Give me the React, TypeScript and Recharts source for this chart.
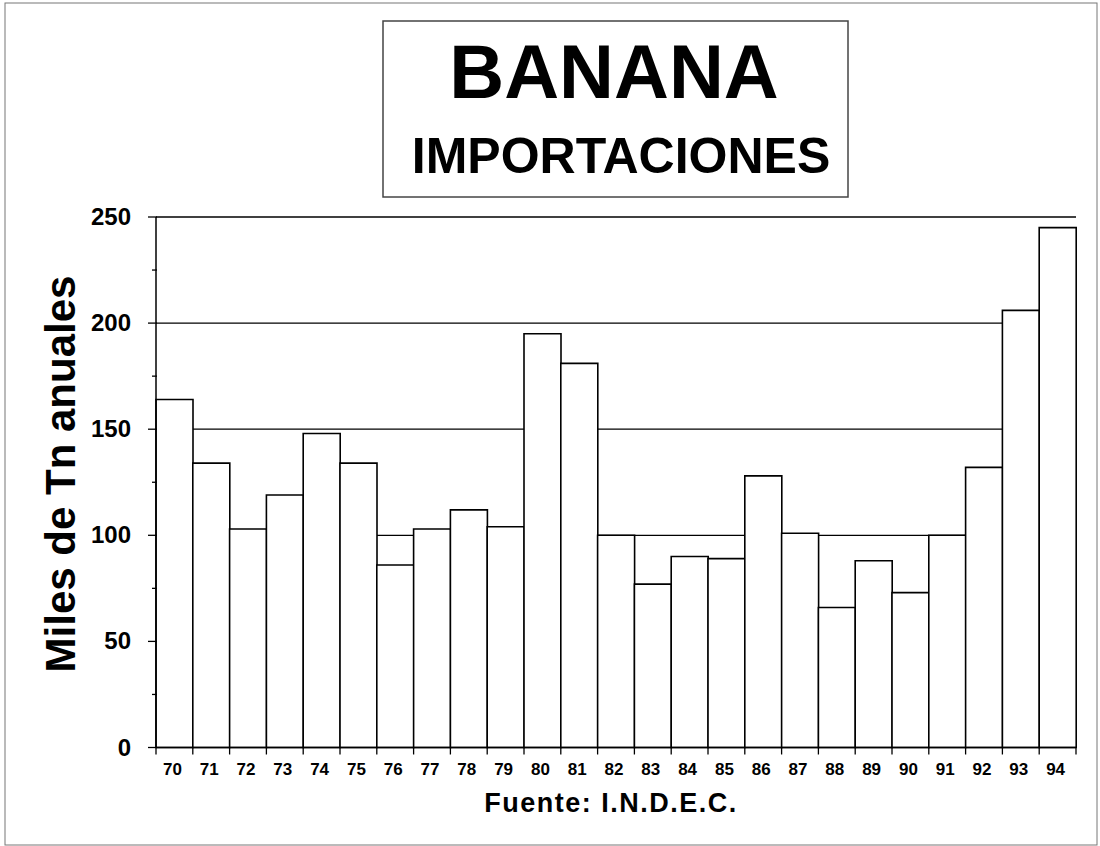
import { BarChart, Bar, XAxis, YAxis, CartesianGrid } from "recharts"

const YEARS = [
  "70", "71", "72", "73", "74", "75", "76", "77", "78", "79", "80", "81", "82",
  "83", "84", "85", "86", "87", "88", "89", "90", "91", "92", "93", "94",
]

// miles de Tn anuales
const IMPORTS = [
  164, 134, 103, 119, 148, 134, 86, 103, 112, 104, 195, 181, 100,
  77, 90, 89, 128, 101, 66, 88, 73, 100, 132, 206, 245,
]

const Y_TICKS = [0, 25, 50, 75, 100, 125, 150, 175, 200, 225, 250]
const GRID_VALUES = [50, 100, 150, 200, 250]

const FONT = '"Liberation Sans", Arial, Helvetica, sans-serif'
const Y_TICK_GAP = 25

const data = YEARS.map((year, i) => ({ year, value: IMPORTS[i] }))

function YTick(props: any) {
  const { x, y, payload } = props
  const axisX = x + Y_TICK_GAP
  const major = payload.value % 50 === 0
  return (
    <g>
      <line x1={axisX - (major ? 8 : 4)} x2={axisX + 1} y1={y} y2={y} stroke="#000" strokeWidth={1.3} />
      {major && (
        <text x={x} y={y} dy={8} textAnchor="end" fontSize={24} fontWeight="bold" fontFamily={FONT} fill="#000">
          {payload.value}
        </text>
      )}
    </g>
  )
}

function XTick(props: any) {
  const { x, y, payload, index } = props
  const half = payload.offset ?? 18.4
  const last = index === YEARS.length - 1
  return (
    <g>
      <line x1={x - half} x2={x - half} y1={y} y2={y + 7} stroke="#000" strokeWidth={1.3} />
      {last && <line x1={x + half} x2={x + half} y1={y} y2={y + 7} stroke="#000" strokeWidth={1.3} />}
      <text x={x - 2} y={y + 27} textAnchor="middle" fontSize={17} fontWeight="bold" fontFamily={FONT} fill="#000">
        {payload.value}
      </text>
    </g>
  )
}

export default function App() {
  return (
    <div style={{ position: "absolute", left: 0, top: 0, width: 1100, height: 846, background: "#fff" }}>
      <BarChart
        width={1100}
        height={846}
        data={data}
        margin={{ top: 217, right: 24, bottom: 68.5, left: 96 }}
        barCategoryGap={0}
        barGap={0}
      >
        <CartesianGrid horizontal vertical={false} horizontalValues={GRID_VALUES} stroke="#000" strokeWidth={1.3} />
        <XAxis
          dataKey="year"
          interval={0}
          height={30}
          tickSize={0}
          tickMargin={0}
          tickLine={false}
          axisLine={{ stroke: "#000", strokeWidth: 1.5 }}
          tick={<XTick />}
        />
        <YAxis
          width={60}
          domain={[0, 250]}
          ticks={Y_TICKS}
          interval={0}
          tickSize={0}
          tickMargin={Y_TICK_GAP}
          tickLine={false}
          axisLine={{ stroke: "#000", strokeWidth: 1.5 }}
          tick={<YTick />}
        />
        <Bar dataKey="value" fill="#fff" stroke="#000" strokeWidth={1.6} isAnimationActive={false} />
      </BarChart>
      <svg
        width={1100}
        height={846}
        style={{ position: "absolute", left: 0, top: 0, pointerEvents: "none" }}
        fontFamily={FONT}
      >
        <rect x={5} y={3} width={1092} height={842} fill="none" stroke="#777" strokeWidth={1} />
        <rect x={383} y={21} width={465} height={176} fill="none" stroke="#444" strokeWidth={1.5} />
        <text x={614} y={98} textAnchor="middle" fontSize={76} fontWeight="bold" fill="#000">
          BANANA
        </text>
        <text x={621} y={173} textAnchor="middle" fontSize={50} fontWeight="bold" fill="#000">
          IMPORTACIONES
        </text>
        <text
          x={0}
          y={0}
          transform="translate(75 474) rotate(-90)"
          textAnchor="middle"
          fontSize={42}
          fontWeight="bold"
          fill="#000"
        >
          Miles de Tn anuales
        </text>
        <text x={611} y={812} textAnchor="middle" fontSize={27} fontWeight="bold" letterSpacing={1.5} fill="#000">
          Fuente: I.N.D.E.C.
        </text>
      </svg>
    </div>
  )
}
